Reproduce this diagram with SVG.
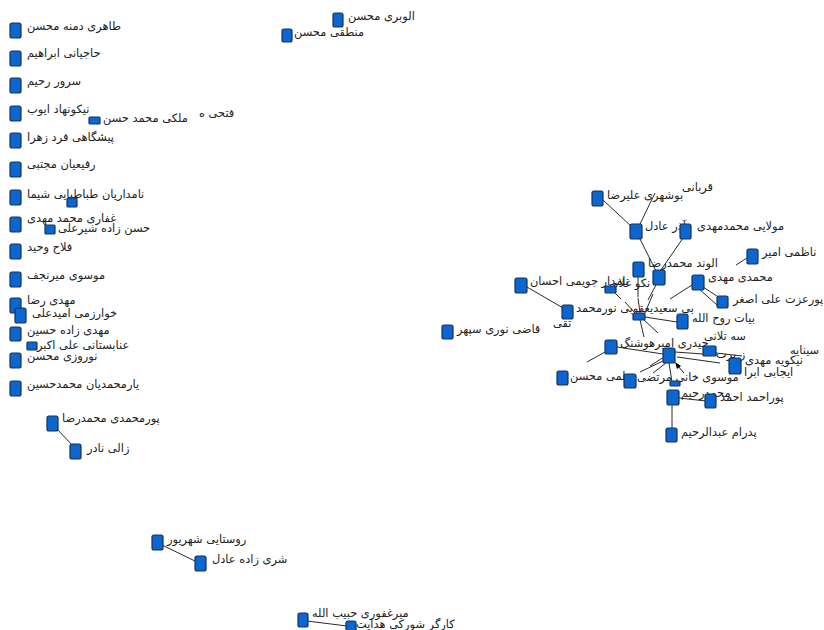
<svg xmlns="http://www.w3.org/2000/svg" width="824" height="630" viewBox="0 0 824 630">
<style>
.n{fill:#0b66d0;stroke:#14305c;stroke-width:1.2}
.t{font-family:"DejaVu Sans",sans-serif;font-size:11.4px;fill:#222}
.e{stroke:#2a2a2a;stroke-width:1;fill:none}
</style>
<rect width="824" height="630" fill="#fff"/>
<g id="connectors">
<line class="e" x1="56" y1="428" x2="74" y2="447"/>
<line class="e" x1="162" y1="545" x2="197" y2="562"/>
<line class="e" x1="307" y1="621" x2="347" y2="626"/>
<line class="e" x1="603" y1="200" x2="632" y2="227"/>
<line class="e" x1="640" y1="224" x2="655" y2="193"/>
<line class="e" x1="640" y1="239" x2="656" y2="271"/>
<line class="e" x1="683" y1="238" x2="661" y2="270"/>
<line class="e" x1="747" y1="258" x2="736" y2="265"/>
<line class="e" x1="700" y1="285" x2="720" y2="298"/>
<line class="e" x1="699" y1="289" x2="717" y2="305"/>
<line class="e" x1="692" y1="285" x2="670" y2="299"/>
<line class="e" x1="656" y1="285" x2="648" y2="300"/>
<line class="e" x1="638" y1="277" x2="638" y2="297"/>
<line class="e" x1="615" y1="293" x2="621" y2="299"/>
<line class="e" x1="527" y1="287" x2="563" y2="308"/>
<line class="e" x1="645" y1="317" x2="677" y2="322"/>
<line class="e" x1="643" y1="319" x2="658" y2="333"/>
<line class="e" x1="640" y1="320" x2="644" y2="337"/>
<line class="e" x1="635" y1="313" x2="625" y2="302"/>
<line class="e" x1="640" y1="313" x2="638" y2="298"/>
<line class="e" x1="645" y1="313" x2="653" y2="294"/>
<line class="e" x1="617" y1="347" x2="663" y2="354"/>
<line class="e" x1="605" y1="352" x2="587" y2="362"/>
<line class="e" x1="675" y1="352" x2="717" y2="355"/>
<line class="e" x1="677" y1="357" x2="720" y2="363"/>
<line class="e" x1="664" y1="357" x2="650" y2="366"/>
<line class="e" x1="663" y1="361" x2="640" y2="372"/>
<line class="e" x1="666" y1="363" x2="653" y2="373"/>
<line class="e" x1="669" y1="363" x2="672" y2="382"/>
<line class="e" x1="684" y1="373" x2="677" y2="365"/>
<polygon points="675,362 681,366 677,369" fill="#000"/>
<line class="e" x1="679" y1="398" x2="706" y2="401"/>
<line class="e" x1="672" y1="405" x2="672" y2="428"/>
<line class="e" x1="716" y1="353" x2="742" y2="356"/>
</g>
<g id="n1"><rect class="n" x="10" y="23" width="11" height="15" rx="2"/><text class="t" x="27" y="30">طاهری دمنه محسن</text></g>
<g id="n2"><rect class="n" x="10" y="51" width="11" height="15" rx="2"/><text class="t" x="27" y="57">حاجیانی ابراهیم</text></g>
<g id="n3"><rect class="n" x="10" y="78" width="11" height="15" rx="2"/><text class="t" x="27" y="85">سرور رحیم</text></g>
<g id="n4"><rect class="n" x="10" y="106" width="11" height="15" rx="2"/><text class="t" x="27" y="113">نیکونهاد ایوب</text></g>
<g id="n5"><rect class="n" x="10" y="133" width="11" height="15" rx="2"/><text class="t" x="27" y="141">پیشگاهی فرد زهرا</text></g>
<g id="n6"><rect class="n" x="10" y="162" width="11" height="15" rx="2"/><text class="t" x="27" y="168">رفیعیان مجتبی</text></g>
<g id="n7"><rect class="n" x="10" y="190" width="11" height="15" rx="2"/><text class="t" x="27" y="198">نامداریان طباطبایی شیما</text></g>
<g id="n7b"><rect class="n" x="67" y="198" width="10" height="9" rx="1"/></g>
<g id="n8"><rect class="n" x="10" y="217" width="11" height="15" rx="2"/><text class="t" x="27" y="222">غفاری محمد مهدی</text></g>
<g id="n8b"><rect class="n" x="45" y="225" width="10" height="9" rx="1"/><text class="t" x="58" y="232">حسن زاده شیرعلی</text></g>
<g id="n9"><rect class="n" x="10" y="244" width="11" height="15" rx="2"/><text class="t" x="27" y="251">فلاح وحید</text></g>
<g id="n10"><rect class="n" x="10" y="272" width="11" height="15" rx="2"/><text class="t" x="27" y="279">موسوی میرنجف</text></g>
<g id="n11"><rect class="n" x="10" y="298" width="11" height="15" rx="2"/><text class="t" x="27" y="304">مهدی رضا</text></g>
<g id="n12"><rect class="n" x="15" y="308" width="11" height="15" rx="2"/><text class="t" x="32" y="317">خوارزمی امیدعلی</text></g>
<g id="n13"><rect class="n" x="10" y="327" width="11" height="14" rx="2"/><text class="t" x="27" y="334">مهدی زاده حسین</text></g>
<g id="n14"><rect class="n" x="27" y="342" width="10" height="8" rx="1"/><text class="t" x="37" y="349">عنابستانی علی اکبر</text></g>
<g id="n15"><rect class="n" x="10" y="353" width="11" height="15" rx="2"/><text class="t" x="27" y="360">نوروزی محسن</text></g>
<g id="n16"><rect class="n" x="10" y="381" width="11" height="15" rx="2"/><text class="t" x="27" y="388">یارمحمدیان محمدحسین</text></g>
<g id="n17"><rect class="n" x="47" y="416" width="11" height="15" rx="2"/><text class="t" x="62" y="422">پورمحمدی محمدرضا</text></g>
<g id="n18"><rect class="n" x="70" y="444" width="11" height="15" rx="2"/><text class="t" x="87" y="452">زالی نادر</text></g>
<g id="n19"><rect class="n" x="89" y="117" width="11" height="7" rx="1"/><text class="t" x="103" y="122">ملکی محمد حسن</text><text class="t" x="199" y="117">فتحی ه</text></g>
<g id="n20"><rect class="n" x="333" y="13" width="10" height="14" rx="2"/><text class="t" x="348" y="20">الوبری محسن</text></g>
<g id="n21"><rect class="n" x="282" y="29" width="10" height="13" rx="2"/><text class="t" x="294" y="36">منطقی محسن</text></g>
<g id="n22"><rect class="n" x="152" y="535" width="11" height="15" rx="2"/><text class="t" x="167" y="543">روستایی شهریور</text></g>
<g id="n23"><rect class="n" x="195" y="556" width="11" height="15" rx="2"/><text class="t" x="212" y="563">شری زاده عادل</text></g>
<g id="n24"><rect class="n" x="298" y="613" width="10" height="14" rx="2"/><text class="t" x="312" y="617">میرغفوری حبیب الله</text></g>
<g id="n25"><rect class="n" x="346" y="621" width="10" height="12" rx="2"/><text class="t" x="356" y="628">کارگر شورکی هدایت</text></g>
<g id="A"><rect class="n" x="592" y="191" width="11" height="15" rx="2"/><text class="t" x="607" y="199">بوشهری علیرضا</text></g>
<g id="A2"><text class="t" x="682" y="191">قربانی</text></g>
<g id="B"><rect class="n" x="630" y="224" width="12" height="15" rx="2"/><text class="t" x="645" y="230">آذر عادل</text></g>
<g id="C"><rect class="n" x="680" y="224" width="11" height="15" rx="2"/><text class="t" x="697" y="230">مولایی محمدمهدی</text></g>
<g id="D"><rect class="n" x="747" y="249" width="11" height="15" rx="2"/><text class="t" x="762" y="256">ناظمی امیر</text></g>
<g id="E"><rect class="n" x="633" y="262" width="11" height="15" rx="2"/><text class="t" x="648" y="267">الوند محمدرضا</text></g>
<g id="F"><text class="t" x="606" y="287">نکو غلامر</text><rect class="n" x="653" y="270" width="12" height="15" rx="2"/></g>
<g id="G"><rect class="n" x="692" y="275" width="12" height="15" rx="2"/><text class="t" x="708" y="281">محمدی مهدی</text></g>
<g id="H"><rect class="n" x="717" y="296" width="11" height="12" rx="2"/><text class="t" x="733" y="303">پورعزت علی اصغر</text></g>
<g id="I"><rect class="n" x="605" y="286" width="11" height="7" rx="1"/></g>
<g id="J"><rect class="n" x="515" y="278" width="12" height="15" rx="2"/><text class="t" x="530" y="285">نامدار جویمی احسان</text></g>
<g id="K"><rect class="n" x="562" y="305" width="11" height="14" rx="2"/><text class="t" x="576" y="312">بی سعیدیعقوبی نورمحمد</text></g>
<g id="L"><rect class="n" x="633" y="313" width="12" height="7" rx="1"/></g>
<g id="M"><rect class="n" x="442" y="325" width="11" height="14" rx="2"/><text class="t" x="457" y="333">قاضی نوری سپهر</text><text class="t" x="553" y="327">تقی</text></g>
<g id="N"><rect class="n" x="677" y="314" width="11" height="15" rx="2"/><text class="t" x="692" y="322">بیات روح الله</text></g>
<g id="O"><rect class="n" x="605" y="340" width="12" height="14" rx="2"/><text class="t" x="620" y="347">حیدری امیرهوشنگ</text><text class="t" x="704" y="340">سه تلانی</text></g>
<g id="P"><rect class="n" x="663" y="348" width="12" height="15" rx="2"/></g>
<g id="Q"><rect class="n" x="703" y="346" width="13" height="10" rx="1"/><text class="t" x="716" y="358">ز برت</text></g>
<g id="R"><rect class="n" x="729" y="358" width="12" height="16" rx="2"/><text class="t" x="745" y="364">نیکویه مهدی</text><text class="t" x="744" y="376">ایجابی ابرا</text></g>
<g id="R2"><text class="t" x="790" y="354">سینایه</text></g>
<g id="S"><rect class="n" x="557" y="371" width="11" height="14" rx="2"/><text class="t" x="570" y="380">ملمی محسن</text></g>
<g id="T"><rect class="n" x="624" y="374" width="12" height="14" rx="2"/><text class="t" x="637" y="381">موسوی خانی مرتضی</text></g>
<g id="X"><rect class="n" x="670" y="381" width="10" height="5" rx="1"/></g>
<g id="U"><rect class="n" x="667" y="390" width="12" height="15" rx="2"/><text class="t" x="681" y="397">محمدرحیم</text></g>
<g id="V"><rect class="n" x="705" y="394" width="11" height="14" rx="2"/><text class="t" x="720" y="401">پوراحمد احمد</text></g>
<g id="W"><rect class="n" x="666" y="428" width="11" height="14" rx="2"/><text class="t" x="681" y="436">پدرام عبدالرحیم</text></g>
</svg>
